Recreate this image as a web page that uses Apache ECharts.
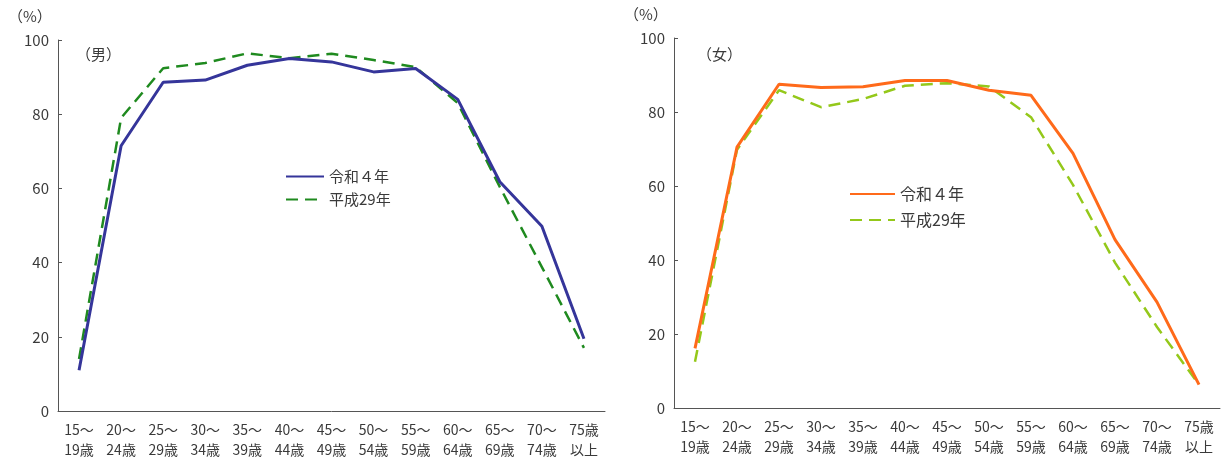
<!DOCTYPE html>
<html><head><meta charset="utf-8">
<script src="https://cdn.jsdelivr.net/npm/echarts@6/dist/echarts.min.js"></script>
<style>html,body{margin:0;padding:0;background:#fff}#c{width:1223px;height:464px}</style>
</head><body><div id="c"></div>
<script>
const categories = ['15～\n19歳','20～\n24歳','25～\n29歳','30～\n34歳','35～\n39歳','40～\n44歳','45～\n49歳','50～\n54歳','55～\n59歳','60～\n64歳','65～\n69歳','70～\n74歳','75歳\n以上'];
const yTicks = [0, 20, 40, 60, 80, 100];
const maleR4 = [11.0, 71.5, 88.6, 89.2, 93.2, 95.0, 94.1, 91.4, 92.3, 84.0, 61.8, 49.8, 19.5];
const maleH29 = [14.0, 79.0, 92.4, 93.8, 96.4, 95.1, 96.3, 94.6, 92.7, 83.0, 60.4, 38.8, 17.0];
const femaleR4 = [16.1, 70.5, 87.5, 86.6, 86.8, 88.5, 88.5, 85.9, 84.5, 68.8, 45.5, 28.6, 6.3];
const femaleH29 = [12.5, 69.8, 85.9, 81.3, 83.5, 87.1, 87.8, 86.9, 78.6, 60.3, 39.3, 21.9, 6.3];
const seriesNames = ['令和４年', '平成29年'];

const FONT = '"Noto Sans CJK JP", sans-serif';
const TXT = '#3a3a3a';
const chart = echarts.init(document.getElementById('c'), null, {renderer: 'canvas'});

function xAxis(i){
  return {type:'category', gridIndex:i, data:categories, boundaryGap:true,
    axisLine:{lineStyle:{color:'#555', width:1}},
    axisTick:{inside:true, length:4, lineStyle:{color:'#555'}, alignWithLabel:false},
    axisLabel:{color:TXT, fontFamily:FONT, fontSize:14, lineHeight:20, margin:9, interval:0}};
}
function yAxis(i){
  return {type:'value', gridIndex:i, min:yTicks[0], max:yTicks[yTicks.length-1], interval:20,
    axisLine:{show:true, lineStyle:{color:'#555', width:1}},
    axisTick:{show:true, inside:true, length:4, lineStyle:{color:'#555'}},
    splitLine:{show:false},
    axisLabel:{color:TXT, fontFamily:FONT, fontSize:15, margin:9}};
}
function line(name, data, i, color, dashed){
  return {name:name, type:'line', xAxisIndex:i, yAxisIndex:i, data:data, symbol:'none',
    lineStyle:{color:color, width:dashed?2.5:3, type:dashed?[12,7]:'solid'},
    itemStyle:{color:color}, z: dashed?2:3, animation:false};
}
const legendCommon = {orient:'vertical', selectedMode:false, itemHeight:14,
  itemStyle:{opacity:0, borderWidth:0}, formatter: n => n.replace(' (女)','')};

chart.setOption({
  animation:false,
  grid:[
    {left:58, top:40, width:547, height:371},
    {left:674, top:38, width:546, height:370}
  ],
  xAxis:[xAxis(0), xAxis(1)],
  yAxis:[yAxis(0), yAxis(1)],
  legend:[
    Object.assign({}, legendCommon, {data:seriesNames, left:280, top:164, itemWidth:38, itemGap:8,
      textStyle:{color:TXT, fontFamily:FONT, fontSize:15}}),
    Object.assign({}, legendCommon, {data:seriesNames.map(n=>n+' (女)'), left:844, top:181, itemWidth:45, itemGap:10,
      textStyle:{color:TXT, fontFamily:FONT, fontSize:16}})
  ],
  graphic:[
    {type:'text', left:8, top:9, style:{text:'（%）', fill:TXT, font:'15px '+FONT}},
    {type:'text', left:76, top:47, style:{text:'（男）', fill:TXT, font:'15px '+FONT}},
    {type:'text', left:624, top:7, style:{text:'（%）', fill:TXT, font:'15px '+FONT}},
    {type:'text', left:697, top:47, style:{text:'（女）', fill:TXT, font:'15px '+FONT}}
  ],
  series:[
    line(seriesNames[1], maleH29, 0, '#1f8a1f', true),
    line(seriesNames[0], maleR4, 0, '#35359a', false),
    line(seriesNames[1]+' (女)', femaleH29, 1, '#94c81a', true),
    line(seriesNames[0]+' (女)', femaleR4, 1, '#ff6a1a', false)
  ]
});
</script></body></html>
